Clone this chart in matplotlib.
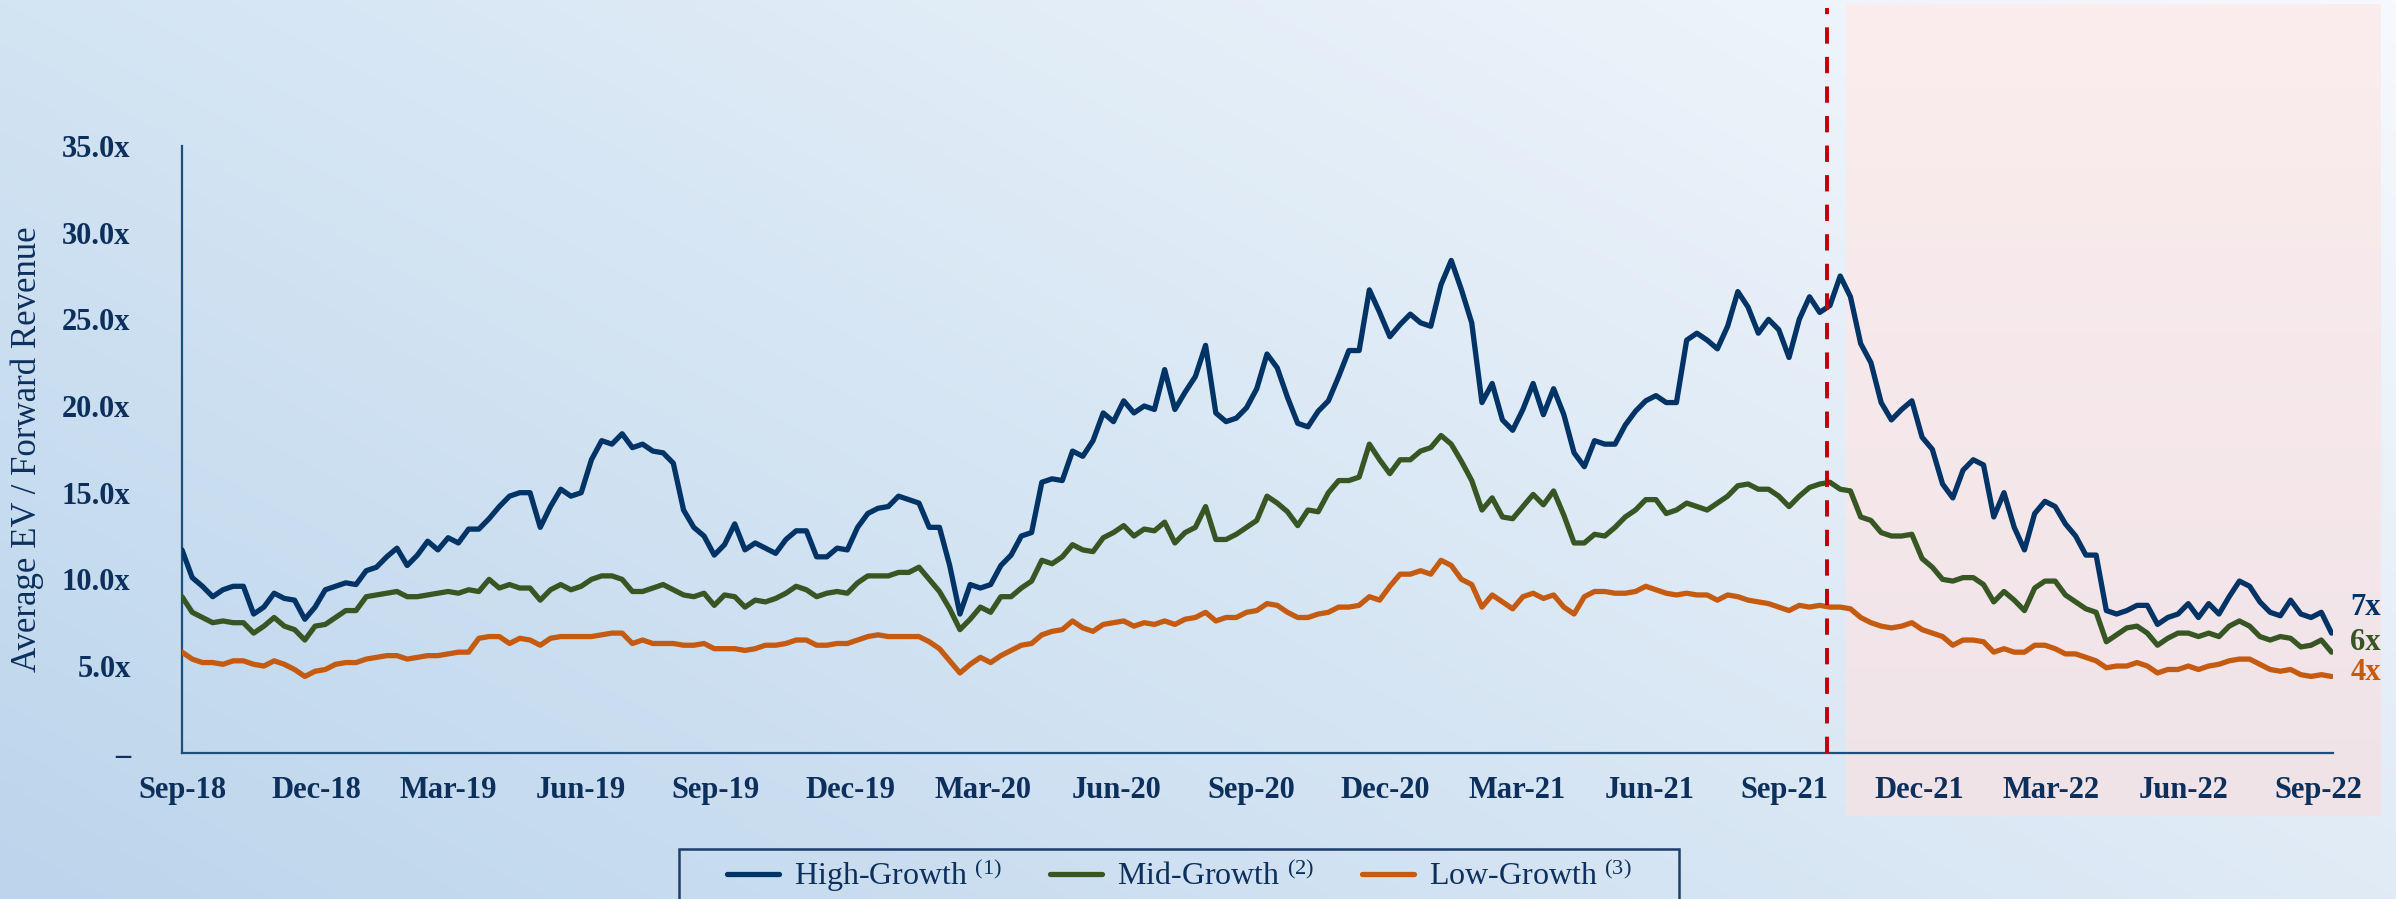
import numpy as np
import pandas as pd
import matplotlib
matplotlib.use("Agg")
import matplotlib.pyplot as plt
import matplotlib.dates as mdates
import matplotlib.transforms as mtransforms
from matplotlib.patches import Rectangle

plt.rcParams['font.family'] = ['Liberation Serif', 'DejaVu Serif']
plt.rcParams['mathtext.fontset'] = 'custom'
plt.rcParams['mathtext.rm'] = 'Liberation Serif'
plt.rcParams['mathtext.it'] = 'Liberation Serif:italic'
plt.rcParams['mathtext.bf'] = 'Liberation Serif:bold'

# ---------------- data (weekly readings) ----------------
start_date = '2018-09-30'

high_growth = [
    11.7, 10.1, 9.6, 9.0, 9.4, 9.6, 9.6, 8.0, 8.4, 9.2,
    8.9, 8.8, 7.7, 8.4, 9.4, 9.6, 9.8, 9.7, 10.5, 10.7,
    11.3, 11.8, 10.8, 11.4, 12.2, 11.7, 12.4, 12.1, 12.9, 12.9,
    13.5, 14.2, 14.8, 15.0, 15.0, 13.0, 14.2, 15.2, 14.8, 15.0,
    16.9, 18.0, 17.8, 18.4, 17.6, 17.8, 17.4, 17.3, 16.7, 14.0,
    13.0, 12.5, 11.4, 12.0, 13.2, 11.7, 12.1, 11.8, 11.5, 12.3,
    12.8, 12.8, 11.3, 11.3, 11.8, 11.7, 13.0, 13.8, 14.1, 14.2,
    14.8, 14.6, 14.4, 13.0, 13.0, 10.8, 8.0, 9.7, 9.5, 9.7,
    10.8, 11.4, 12.5, 12.7, 15.6, 15.8, 15.7, 17.4, 17.1, 18.0,
    19.6, 19.1, 20.3, 19.6, 20.0, 19.8, 22.1, 19.8, 20.8, 21.7,
    23.5, 19.6, 19.1, 19.3, 19.9, 21.0, 23.0, 22.2, 20.5, 19.0,
    18.8, 19.7, 20.3, 21.7, 23.2, 23.2, 26.7, 25.4, 24.0, 24.7,
    25.3, 24.8, 24.6, 27.0, 28.4, 26.7, 24.8, 20.2, 21.3, 19.2,
    18.6, 19.8, 21.3, 19.5, 21.0, 19.5, 17.3, 16.5, 18.0, 17.8,
    17.8, 18.9, 19.7, 20.3, 20.6, 20.2, 20.2, 23.8, 24.2, 23.8,
    23.3, 24.6, 26.6, 25.7, 24.2, 25.0, 24.4, 22.8, 25.0, 26.3,
    25.4, 25.8, 27.5, 26.3, 23.6, 22.5, 20.2, 19.2, 19.8, 20.3,
    18.2, 17.5, 15.5, 14.7, 16.3, 16.9, 16.6, 13.6, 15.0, 13.0,
    11.7, 13.8, 14.5, 14.2, 13.2, 12.5, 11.4, 11.4, 8.2, 8.0,
    8.2, 8.5, 8.5, 7.4, 7.8, 8.0, 8.6, 7.8, 8.6, 8.0,
    9.0, 9.9, 9.6, 8.7, 8.1, 7.9, 8.8, 8.0, 7.8, 8.1, 6.9,
]

mid_growth = [
    9.0, 8.1, 7.8, 7.5, 7.6, 7.5, 7.5, 6.9, 7.3, 7.8,
    7.3, 7.1, 6.5, 7.3, 7.4, 7.8, 8.2, 8.2, 9.0, 9.1,
    9.2, 9.3, 9.0, 9.0, 9.1, 9.2, 9.3, 9.2, 9.4, 9.3,
    10.0, 9.5, 9.7, 9.5, 9.5, 8.8, 9.4, 9.7, 9.4, 9.6,
    10.0, 10.2, 10.2, 10.0, 9.3, 9.3, 9.5, 9.7, 9.4, 9.1,
    9.0, 9.2, 8.5, 9.1, 9.0, 8.4, 8.8, 8.7, 8.9, 9.2,
    9.6, 9.4, 9.0, 9.2, 9.3, 9.2, 9.8, 10.2, 10.2, 10.2,
    10.4, 10.4, 10.7, 10.0, 9.3, 8.3, 7.1, 7.7, 8.4, 8.1,
    9.0, 9.0, 9.5, 9.9, 11.1, 10.9, 11.3, 12.0, 11.7, 11.6,
    12.4, 12.7, 13.1, 12.5, 12.9, 12.8, 13.3, 12.1, 12.7, 13.0,
    14.2, 12.3, 12.3, 12.6, 13.0, 13.4, 14.8, 14.4, 13.9, 13.1,
    14.0, 13.9, 15.0, 15.7, 15.7, 15.9, 17.8, 16.9, 16.1, 16.9,
    16.9, 17.4, 17.6, 18.3, 17.8, 16.8, 15.7, 14.0, 14.7, 13.6,
    13.5, 14.2, 14.9, 14.3, 15.1, 13.7, 12.1, 12.1, 12.6, 12.5,
    13.0, 13.6, 14.0, 14.6, 14.6, 13.8, 14.0, 14.4, 14.2, 14.0,
    14.4, 14.8, 15.4, 15.5, 15.2, 15.2, 14.8, 14.2, 14.8, 15.3,
    15.5, 15.6, 15.2, 15.1, 13.6, 13.4, 12.7, 12.5, 12.5, 12.6,
    11.2, 10.7, 10.0, 9.9, 10.1, 10.1, 9.7, 8.7, 9.3, 8.8,
    8.2, 9.5, 9.9, 9.9, 9.1, 8.7, 8.3, 8.1, 6.4, 6.8,
    7.2, 7.3, 6.9, 6.2, 6.6, 6.9, 6.9, 6.7, 6.9, 6.7,
    7.3, 7.6, 7.3, 6.7, 6.5, 6.7, 6.6, 6.1, 6.2, 6.5, 5.8,
]

low_growth = [
    5.8, 5.4, 5.2, 5.2, 5.1, 5.3, 5.3, 5.1, 5.0, 5.3,
    5.1, 4.8, 4.4, 4.7, 4.8, 5.1, 5.2, 5.2, 5.4, 5.5,
    5.6, 5.6, 5.4, 5.5, 5.6, 5.6, 5.7, 5.8, 5.8, 6.6,
    6.7, 6.7, 6.3, 6.6, 6.5, 6.2, 6.6, 6.7, 6.7, 6.7,
    6.7, 6.8, 6.9, 6.9, 6.3, 6.5, 6.3, 6.3, 6.3, 6.2,
    6.2, 6.3, 6.0, 6.0, 6.0, 5.9, 6.0, 6.2, 6.2, 6.3,
    6.5, 6.5, 6.2, 6.2, 6.3, 6.3, 6.5, 6.7, 6.8, 6.7,
    6.7, 6.7, 6.7, 6.4, 6.0, 5.3, 4.6, 5.1, 5.5, 5.2,
    5.6, 5.9, 6.2, 6.3, 6.8, 7.0, 7.1, 7.6, 7.2, 7.0,
    7.4, 7.5, 7.6, 7.3, 7.5, 7.4, 7.6, 7.4, 7.7, 7.8,
    8.1, 7.6, 7.8, 7.8, 8.1, 8.2, 8.6, 8.5, 8.1, 7.8,
    7.8, 8.0, 8.1, 8.4, 8.4, 8.5, 9.0, 8.8, 9.6, 10.3,
    10.3, 10.5, 10.3, 11.1, 10.8, 10.0, 9.7, 8.4, 9.1, 8.7,
    8.3, 9.0, 9.2, 8.9, 9.1, 8.4, 8.0, 9.0, 9.3, 9.3,
    9.2, 9.2, 9.3, 9.6, 9.4, 9.2, 9.1, 9.2, 9.1, 9.1,
    8.8, 9.1, 9.0, 8.8, 8.7, 8.6, 8.4, 8.2, 8.5, 8.4,
    8.5, 8.4, 8.4, 8.3, 7.8, 7.5, 7.3, 7.2, 7.3, 7.5,
    7.1, 6.9, 6.7, 6.2, 6.5, 6.5, 6.4, 5.8, 6.0, 5.8,
    5.8, 6.2, 6.2, 6.0, 5.7, 5.7, 5.5, 5.3, 4.9, 5.0,
    5.0, 5.2, 5.0, 4.6, 4.8, 4.8, 5.0, 4.8, 5.0, 5.1,
    5.3, 5.4, 5.4, 5.1, 4.8, 4.7, 4.8, 4.5, 4.4, 4.5, 4.4,
]

series_names = ['High-Growth', 'Mid-Growth', 'Low-Growth']
series_notes = ['(1)', '(2)', '(3)']
end_labels = ['7x', '6x', '4x']
end_label_y = [8.4, 6.35, 4.6]

tick_labels = ['Sep-18', 'Dec-18', 'Mar-19', 'Jun-19', 'Sep-19', 'Dec-19',
               'Mar-20', 'Jun-20', 'Sep-20', 'Dec-20', 'Mar-21', 'Jun-21',
               'Sep-21', 'Dec-21', 'Mar-22', 'Jun-22', 'Sep-22']
y_ticks = [0, 5, 10, 15, 20, 25, 30, 35]

event_date = '2021-10-29'      # dashed marker
shade_start = '2021-11-11'     # start of shaded period
axis_end = '2022-10-10'

# ---------------- styling ----------------
NAVY = '#003366'
GREEN = '#375623'
ORANGE = '#c55a11'
TEXT = '#0c2f5c'
SPINE = '#1f4e79'
RED = '#c00000'
colors = [NAVY, GREEN, ORANGE]

W, H = 2396, 899
fig = plt.figure(figsize=(W / 100, H / 100), dpi=100)
fig.patch.set_facecolor('white')

# background gradient
bg = fig.add_axes([0, 0, 1, 1], zorder=-10)
gx = np.linspace(0, 1, 480)[None, :, None]
gy = np.linspace(0, 1, 180)[:, None, None]
BL = np.array([0xbc, 0xd5, 0xec]) / 255
BR = np.array([0xe0, 0xeb, 0xf6]) / 255
TL = np.array([0xd3, 0xe4, 0xf3]) / 255
TR = np.array([0xf6, 0xf9, 0xfd]) / 255
grad = (BL * (1 - gx) * (1 - gy) + BR * gx * (1 - gy) + TL * (1 - gx) * gy + TR * gx * gy)
bg.imshow(grad, aspect='auto', extent=[0, 1, 0, 1], origin='lower', interpolation='bilinear')
bg.set_xlim(0, 1); bg.set_ylim(0, 1)
bg.axis('off')

# main axes
ax = fig.add_axes([182 / W, (H - 752.7) / H, 2151 / W, (752.7 - 146) / H])
ax.set_facecolor('none')

dates = pd.date_range(start_date, periods=len(high_growth), freq='7D')
all_series = [high_growth, mid_growth, low_growth]
handles = []
for vals, col in zip(all_series, colors):
    ln, = ax.plot(dates[:len(vals)], vals, color=col, lw=3.8,
                  solid_joinstyle='round', solid_capstyle='round', zorder=3)
    handles.append(ln)

ax.set_xlim(pd.Timestamp(start_date), pd.Timestamp(axis_end))
ax.set_ylim(0, 35)

tick_dates = [pd.Timestamp(start_date) + pd.offsets.MonthEnd(3 * k) for k in range(len(tick_labels))]
ax.set_xticks(tick_dates)
ax.set_xticklabels(tick_labels, fontweight='bold', fontsize=22, color=TEXT)
ax.set_yticks(y_ticks)
ax.set_yticklabels(['–' if v == 0 else f'{v:.1f}x' for v in y_ticks],
                   fontweight='bold', fontsize=22, color=TEXT)
ax.tick_params(axis='x', length=0, pad=17)
ax.tick_params(axis='y', length=0, pad=37)

for s in ['top', 'right']:
    ax.spines[s].set_visible(False)
for s in ['left', 'bottom']:
    ax.spines[s].set_color(SPINE)
    ax.spines[s].set_linewidth(1.6)

# dashed event line (extends above the plot area)
ax_h_px = 752.7 - 146
ax.axvline(pd.Timestamp(event_date), ymin=0, ymax=(752.7 - 8) / ax_h_px,
           color=RED, lw=2.8, dashes=(4.2, 3.4), clip_on=False, zorder=5)

# shaded period (figure-level pink panel)
x_disp = ax.transData.transform((mdates.date2num(pd.Timestamp(shade_start)), 0))[0]
x0 = x_disp / W
x1 = 2381 / W
y0 = (H - 816) / H
y1 = (H - 4) / H
pk = fig.add_axes([x0, y0, x1 - x0, y1 - y0], zorder=-5)
py = np.linspace(0, 1, 100)[:, None, None]
PTOP = np.array([0xfb, 0xed, 0xed]) / 255
PBOT = np.array([0xf0, 0xe3, 0xe8]) / 255
pgrad = PBOT * (1 - py) + PTOP * py
pgrad = np.repeat(pgrad, 4, axis=1)
pk.imshow(pgrad, aspect='auto', extent=[0, 1, 0, 1], origin='lower', interpolation='bilinear')
pk.axis('off')

# end labels
trans = mtransforms.blended_transform_factory(ax.transAxes, ax.transData)
for lab, yv, col in zip(end_labels, end_label_y, colors):
    ax.text(1.008, yv, lab, transform=trans, ha='left', va='center',
            fontsize=22, fontweight='bold', color=col)

# y label
fig.text(27 / W, 1 - 449 / H, 'Average EV / Forward Revenue', rotation=90,
         ha='center', va='center', fontsize=25, color=TEXT)

# legend
labels = [f'{n} $^{{{note}}}$' for n, note in zip(series_names, series_notes)]
fig.legend(handles, labels, loc='center', bbox_to_anchor=(1179 / W, 1 - 875 / H),
           ncol=3, frameon=False, fontsize=23, handlelength=1.65, handletextpad=0.45,
           columnspacing=1.5, labelcolor=TEXT)
fig.patches.append(Rectangle((679 / W, -0.1), 1000 / W, (H - 849) / H + 0.1,
                             transform=fig.transFigure, fill=False,
                             edgecolor='#1f3d6b', lw=1.8, zorder=2))

fig.savefig('out.png', dpi=100)
